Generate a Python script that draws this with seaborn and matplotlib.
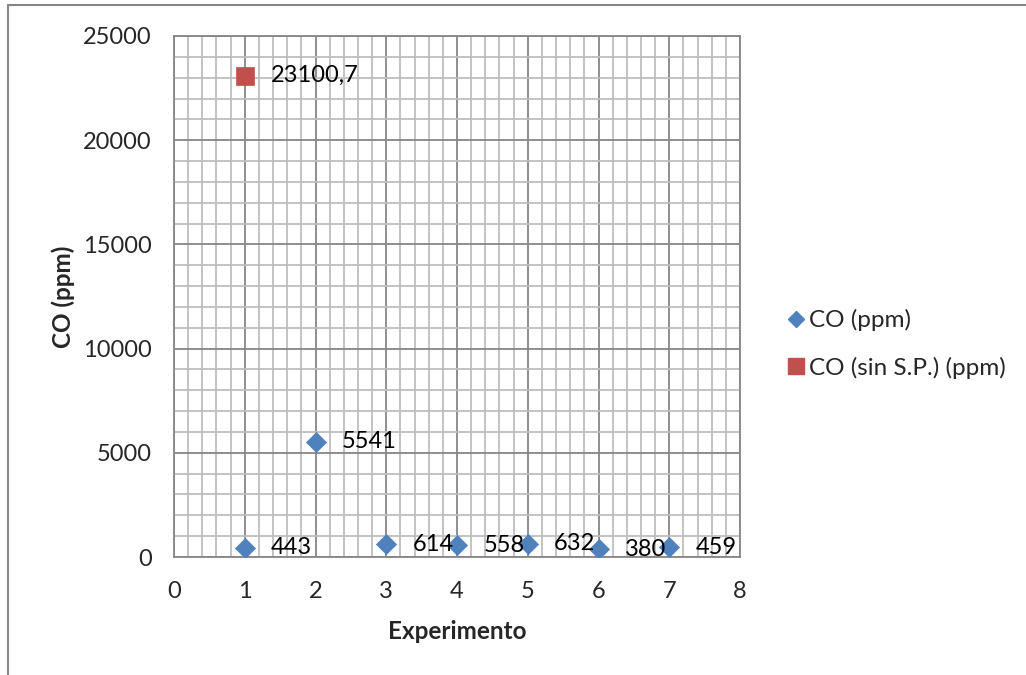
import matplotlib
matplotlib.use("Agg")
import matplotlib.pyplot as plt
from matplotlib.ticker import MultipleLocator
from matplotlib.lines import Line2D
import seaborn as sns
import pandas as pd

# Data
experimentos = [1, 2, 3, 4, 5, 6, 7]
co_ppm = [443, 5541, 614, 558, 632, 380, 459]
co_sin_x = [1]
co_sin_sp = [23100.7]
co_sin_labels = ["23100,7"]
series_names = ["CO (ppm)", "CO (sin S.P.) (ppm)"]

sns.set_style("white")
plt.rcParams['font.family'] = ['Lato', 'DejaVu Sans']

W, H = 1026, 675
fig = plt.figure(figsize=(W / 100, H / 100), dpi=100)
ax = fig.add_axes([174 / W, 1 - 557 / H, (740 - 174) / W, (557 - 36) / H])

df1 = pd.DataFrame({"x": experimentos, "y": co_ppm})
df2 = pd.DataFrame({"x": co_sin_x, "y": co_sin_sp})

blue = "#4F81BD"
red = "#C0504D"
sns.scatterplot(data=df1, x="x", y="y", marker="D", s=105, color=blue,
                edgecolor=blue, linewidth=0.5, ax=ax, zorder=5, legend=False)
sns.scatterplot(data=df2, x="x", y="y", marker="s", s=170, color=red,
                edgecolor=red, linewidth=0.5, ax=ax, zorder=5, legend=False)

fs = 17
for xv, yv in zip(experimentos, co_ppm):
    ax.annotate(str(yv), (xv, yv), xytext=(19, 0), textcoords="offset points",
                ha="left", va="center", fontsize=fs, color="black", zorder=6)
for xv, yv, lab in zip(co_sin_x, co_sin_sp, co_sin_labels):
    ax.annotate(lab, (xv, yv), xytext=(19, 0), textcoords="offset points",
                ha="left", va="center", fontsize=fs, color="black", zorder=6)

ax.set_xlim(0, 8)
ax.set_ylim(0, 25000)
ax.xaxis.set_major_locator(MultipleLocator(1))
ax.xaxis.set_minor_locator(MultipleLocator(0.2))
ax.yaxis.set_major_locator(MultipleLocator(5000))
ax.yaxis.set_minor_locator(MultipleLocator(1000))
ax.grid(which="major", color="#868686", linewidth=1.3, zorder=1)
ax.grid(which="minor", color="#BEBEBE", linewidth=1.3, zorder=0)
ax.set_axisbelow(True)
for s in ax.spines.values():
    s.set_color("#868686")
    s.set_linewidth(1.3)

ax.tick_params(axis="both", which="major", direction="out", length=8,
               width=1.3, color="#868686", labelsize=fs, pad=9)
ax.tick_params(axis="both", which="minor", length=0)
ax.tick_params(axis="y", pad=8)

ax.set_xlabel("Experimento", fontsize=17.5, fontweight="bold", labelpad=13)
ax.set_ylabel("CO (ppm)", fontsize=17.5, fontweight="bold", labelpad=6)

handles = [
    Line2D([], [], marker="D", color=blue, linestyle="none", markersize=8.5),
    Line2D([], [], marker="s", color=red, linestyle="none", markersize=12),
]
fig.legend(handles, series_names, loc="center left",
           bbox_to_anchor=(786 / W, 1 - 344 / H), frameon=False,
           fontsize=17.5, handlelength=0.8, handletextpad=0.15, labelspacing=1.05,
           borderaxespad=0, borderpad=0)

# outer chart border
fig.add_artist(Line2D([8 / W, 8 / W], [0, 1 - 5 / H], transform=fig.transFigure,
                      color="#868686", linewidth=1.5))
fig.add_artist(Line2D([8 / W, 1], [1 - 5 / H, 1 - 5 / H], transform=fig.transFigure,
                      color="#868686", linewidth=1.5))

fig.savefig("out.png", dpi=100)
